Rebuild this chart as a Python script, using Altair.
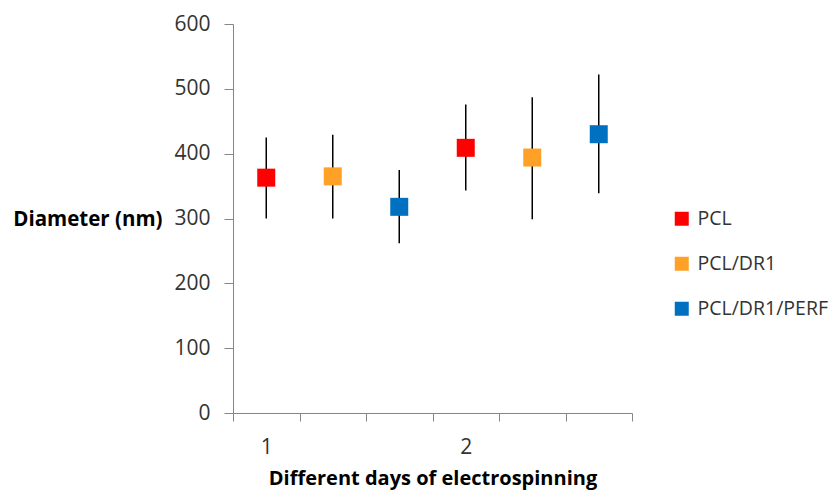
import altair as alt
import pandas as pd

# ---- data ----
groups = ["PCL", "PCL/DR1", "PCL/DR1/PERF", "PCL", "PCL/DR1", "PCL/DR1/PERF"]
positions = [0.5, 1.5, 2.5, 3.5, 4.5, 5.5]
means = [363, 365, 318, 409, 394, 430]
err_low = [300, 300, 262, 343, 299, 339]
err_high = [425, 429, 375, 476, 487, 522]
series_order = ["PCL", "PCL/DR1", "PCL/DR1/PERF"]
series_colors = ["#FF0000", "#FFA126", "#0070C0"]
y_ticks = [0, 100, 200, 300, 400, 500, 600]
x_ticks = [0, 1, 2, 3, 4, 5, 6]

df = pd.DataFrame({
    "group": groups,
    "pos": positions,
    "mean": means,
    "lo": err_low,
    "hi": err_high,
})

FONT = "Open Sans"
W, H = 399, 389

x_enc = alt.X(
    "pos:Q",
    scale=alt.Scale(domain=[0, 6], nice=False, zero=False),
    axis=alt.Axis(
        values=x_ticks,
        grid=False,
        domainColor="#868686",
        tickColor="#868686",
        tickSize=8,
        labelExpr="datum.value == 0 ? '1' : (datum.value == 3 ? '2' : '')",
        labelOffset=W / 12,
        labelFlush=False,
        labelFont=FONT,
        labelFontSize=21,
        labelColor="#333333",
        labelPadding=15,
        title="Different days of electrospinning",
        titleFont=FONT,
        titleFontSize=20,
        titleFontWeight="bold",
        titleColor="#000000",
        titlePadding=11,
    ),
)

y_axis = alt.Axis(
    values=y_ticks,
    grid=False,
    domainColor="#868686",
    tickColor="#868686",
    tickSize=9,
    labelFont=FONT,
    labelFontSize=21,
    labelColor="#333333",
    labelPadding=14,
    title="Diameter (nm)",
    titleFont=FONT,
    titleFontSize=20.5,
    titleFontWeight="bold",
    titleColor="#000000",
    titleAngle=0,
    titleAlign="right",
    titleBaseline="middle",
    titleX=-71,
    titleY=195,
)

bars = alt.Chart(df).mark_rule(color="#000000", strokeWidth=1.5).encode(
    x=x_enc,
    y=alt.Y("lo:Q", scale=alt.Scale(domain=[0, 600], nice=False), axis=y_axis),
    y2="hi:Q",
)

points = alt.Chart(df).mark_square(size=324, opacity=1).encode(
    x=x_enc,
    y=alt.Y("mean:Q"),
    color=alt.Color(
        "group:N",
        scale=alt.Scale(domain=series_order, range=series_colors),
        legend=alt.Legend(
            title=None,
            orient="none",
            legendX=439,
            legendY=185,
            symbolType="square",
            symbolSize=196,
            symbolStrokeWidth=0,
            labelFont=FONT,
            labelFontSize=19.5,
            labelColor="#333333",
            labelOffset=6,
            rowPadding=24,
        ),
    ),
)

chart = alt.layer(bars, points).properties(
    width=W,
    height=H,
    background="#FFFFFF",
    autosize=alt.AutoSizeParams(type="none"),
    padding={"left": 233, "top": 24, "right": 205, "bottom": 81},
).configure_view(strokeWidth=0, stroke="transparent")

chart.save("out.html", embed_options={"renderer": "svg", "actions": False})
